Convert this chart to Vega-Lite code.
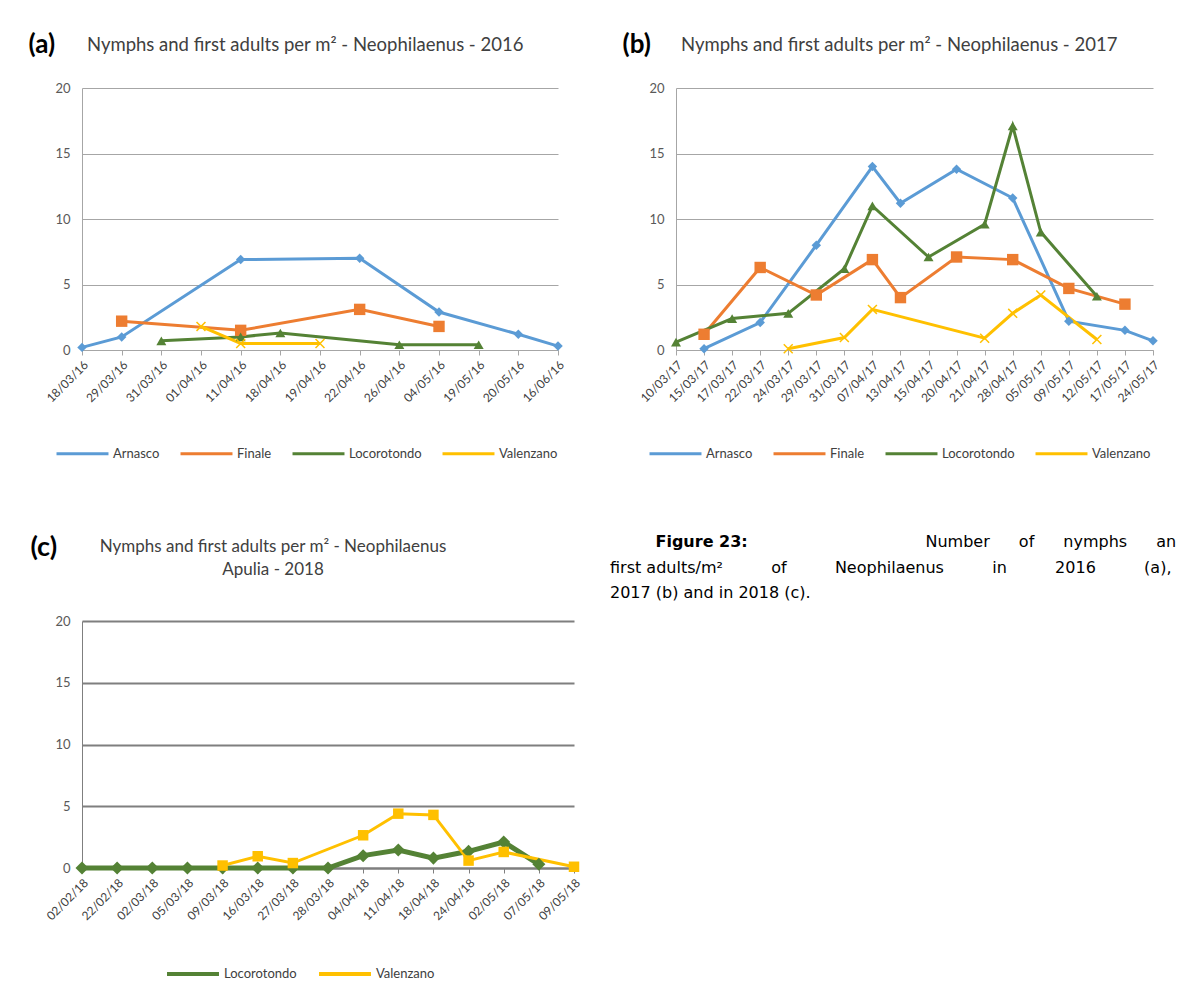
{
  "$schema": "https://vega.github.io/schema/vega-lite/v6.json",
  "background": "white",
  "padding": {"left": 28, "top": 31, "right": 0, "bottom": 0},
  "spacing": 72,
  "resolve": {"scale": {"color": "independent"}, "legend": {"color": "independent"}},
  "datasets": {
    "a": [
      {"date": "18/03/16", "site": "Arnasco", "value": 0.2},
      {"date": "29/03/16", "site": "Arnasco", "value": 1.0},
      {"date": "11/04/16", "site": "Arnasco", "value": 6.9},
      {"date": "22/04/16", "site": "Arnasco", "value": 7.0},
      {"date": "04/05/16", "site": "Arnasco", "value": 2.9},
      {"date": "20/05/16", "site": "Arnasco", "value": 1.2},
      {"date": "16/06/16", "site": "Arnasco", "value": 0.3},
      {"date": "29/03/16", "site": "Finale", "value": 2.2},
      {"date": "11/04/16", "site": "Finale", "value": 1.5},
      {"date": "22/04/16", "site": "Finale", "value": 3.1},
      {"date": "04/05/16", "site": "Finale", "value": 1.8},
      {"date": "31/03/16", "site": "Locorotondo", "value": 0.7},
      {"date": "11/04/16", "site": "Locorotondo", "value": 1.0},
      {"date": "18/04/16", "site": "Locorotondo", "value": 1.3},
      {"date": "26/04/16", "site": "Locorotondo", "value": 0.4},
      {"date": "19/05/16", "site": "Locorotondo", "value": 0.4},
      {"date": "01/04/16", "site": "Valenzano", "value": 1.8},
      {"date": "11/04/16", "site": "Valenzano", "value": 0.5},
      {"date": "19/04/16", "site": "Valenzano", "value": 0.5}
    ],
    "b": [
      {"date": "15/03/17", "site": "Arnasco", "value": 0.1},
      {"date": "22/03/17", "site": "Arnasco", "value": 2.1},
      {"date": "29/03/17", "site": "Arnasco", "value": 8.0},
      {"date": "07/04/17", "site": "Arnasco", "value": 14.0},
      {"date": "13/04/17", "site": "Arnasco", "value": 11.2},
      {"date": "20/04/17", "site": "Arnasco", "value": 13.8},
      {"date": "28/04/17", "site": "Arnasco", "value": 11.6},
      {"date": "09/05/17", "site": "Arnasco", "value": 2.2},
      {"date": "17/05/17", "site": "Arnasco", "value": 1.5},
      {"date": "24/05/17", "site": "Arnasco", "value": 0.7},
      {"date": "15/03/17", "site": "Finale", "value": 1.2},
      {"date": "22/03/17", "site": "Finale", "value": 6.3},
      {"date": "29/03/17", "site": "Finale", "value": 4.2},
      {"date": "07/04/17", "site": "Finale", "value": 6.9},
      {"date": "13/04/17", "site": "Finale", "value": 4.0},
      {"date": "20/04/17", "site": "Finale", "value": 7.1},
      {"date": "28/04/17", "site": "Finale", "value": 6.9},
      {"date": "09/05/17", "site": "Finale", "value": 4.7},
      {"date": "17/05/17", "site": "Finale", "value": 3.5},
      {"date": "10/03/17", "site": "Locorotondo", "value": 0.6},
      {"date": "17/03/17", "site": "Locorotondo", "value": 2.4},
      {"date": "24/03/17", "site": "Locorotondo", "value": 2.8},
      {"date": "31/03/17", "site": "Locorotondo", "value": 6.2},
      {"date": "07/04/17", "site": "Locorotondo", "value": 11.0},
      {"date": "15/04/17", "site": "Locorotondo", "value": 7.1},
      {"date": "21/04/17", "site": "Locorotondo", "value": 9.6},
      {"date": "28/04/17", "site": "Locorotondo", "value": 17.1},
      {"date": "05/05/17", "site": "Locorotondo", "value": 9.0},
      {"date": "12/05/17", "site": "Locorotondo", "value": 4.1},
      {"date": "24/03/17", "site": "Valenzano", "value": 0.1},
      {"date": "31/03/17", "site": "Valenzano", "value": 0.95},
      {"date": "07/04/17", "site": "Valenzano", "value": 3.1},
      {"date": "21/04/17", "site": "Valenzano", "value": 0.9},
      {"date": "28/04/17", "site": "Valenzano", "value": 2.8},
      {"date": "05/05/17", "site": "Valenzano", "value": 4.2},
      {"date": "12/05/17", "site": "Valenzano", "value": 0.8}
    ],
    "c": [
      {"date": "02/02/18", "site": "Locorotondo", "value": 0},
      {"date": "22/02/18", "site": "Locorotondo", "value": 0},
      {"date": "02/03/18", "site": "Locorotondo", "value": 0},
      {"date": "05/03/18", "site": "Locorotondo", "value": 0},
      {"date": "09/03/18", "site": "Locorotondo", "value": 0},
      {"date": "16/03/18", "site": "Locorotondo", "value": 0},
      {"date": "27/03/18", "site": "Locorotondo", "value": 0},
      {"date": "28/03/18", "site": "Locorotondo", "value": 0},
      {"date": "04/04/18", "site": "Locorotondo", "value": 1.0},
      {"date": "11/04/18", "site": "Locorotondo", "value": 1.45},
      {"date": "18/04/18", "site": "Locorotondo", "value": 0.8},
      {"date": "24/04/18", "site": "Locorotondo", "value": 1.35},
      {"date": "02/05/18", "site": "Locorotondo", "value": 2.1},
      {"date": "07/05/18", "site": "Locorotondo", "value": 0.3},
      {"date": "09/03/18", "site": "Valenzano", "value": 0.2},
      {"date": "16/03/18", "site": "Valenzano", "value": 0.95},
      {"date": "27/03/18", "site": "Valenzano", "value": 0.4},
      {"date": "04/04/18", "site": "Valenzano", "value": 2.65},
      {"date": "11/04/18", "site": "Valenzano", "value": 4.4},
      {"date": "18/04/18", "site": "Valenzano", "value": 4.3},
      {"date": "24/04/18", "site": "Valenzano", "value": 0.6},
      {"date": "02/05/18", "site": "Valenzano", "value": 1.3},
      {"date": "09/05/18", "site": "Valenzano", "value": 0.1}
    ],
    "caption": [{"t": ""}]
  },
  "vconcat": [
    {
      "spacing": 56,
      "resolve": {"scale": {"color": "independent"}, "legend": {"color": "independent"}},
      "hconcat": [
        {
          "width": 476, "height": 262,
          "data": {"name": "a"},
          "title": {
            "text": "Nymphs and first adults per m² - Neophilaenus - 2016",
            "anchor": "start", "frame": "group", "dx": 5, "offset": -23,
            "font": "Lato", "fontSize": 18.5, "fontWeight": "normal", "color": "#404040"
          },
          "encoding": {
            "x": {"field": "date", "type": "nominal", "scale": {"type": "point", "padding": 0, "domain": ["18/03/16","29/03/16","31/03/16","01/04/16","11/04/16","18/04/16","19/04/16","22/04/16","26/04/16","04/05/16","19/05/16","20/05/16","16/06/16"]}, "axis": {"title": null, "labelAngle": -45, "labelFontSize": 12, "labelPadding": 4, "tickSize": 5, "grid": false}},
            "y": {"field": "value", "type": "quantitative", "scale": {"domain": [0, 20], "nice": false}, "axis": {"title": "(a)", "titleAngle": 0, "titleAlign": "left", "titleBaseline": "alphabetic", "titleX": -54, "titleY": -36, "titleFont": "Lato", "titleFontSize": 26, "titleFontWeight": "bold", "titleColor": "#000000", "values": [0, 5, 10, 15, 20], "ticks": false, "labelPadding": 12, "labelFontSize": 13, "labelColor": "#595959"}},
            "color": {"field": "site", "type": "nominal", "scale": {"domain": ["Arnasco","Finale","Locorotondo","Valenzano"], "range": ["#5B9BD5","#ED7D31","#548235","#FFC000"]}, "legend": {"orient": "none", "legendX": -27, "legendY": 338, "direction": "horizontal", "title": null, "symbolType": "stroke"}},
            "order": {"value": null}
          },
          "layer": [
            {"mark": {"type": "line", "strokeWidth": 3}},
            {"transform": [{"filter": "datum.site != 'Valenzano'"}],
             "mark": {"type": "point", "filled": true, "opacity": 1},
             "encoding": {
               "shape": {"condition": [{"test": "datum.site == 'Arnasco'", "value": "diamond"}, {"test": "datum.site == 'Finale'", "value": "square"}], "value": "triangle-up"},
               "size": {"condition": [{"test": "datum.site == 'Arnasco'", "value": 90}, {"test": "datum.site == 'Finale'", "value": 130}], "value": 100}
             }},
            {"transform": [{"filter": "datum.site == 'Valenzano'"}],
             "mark": {"type": "point", "filled": false, "opacity": 1, "strokeWidth": 1.5, "shape": "M-1,-1L1,1M1,-1L-1,1", "size": 80}}
          ]
        },
        {
          "width": 477, "height": 262,
          "data": {"name": "b"},
          "title": {
            "text": "Nymphs and first adults per m² - Neophilaenus - 2017",
            "anchor": "start", "frame": "group", "dx": 5, "offset": -23,
            "font": "Lato", "fontSize": 18.5, "fontWeight": "normal", "color": "#404040"
          },
          "encoding": {
            "x": {"field": "date", "type": "nominal", "scale": {"type": "point", "padding": 0, "domain": ["10/03/17","15/03/17","17/03/17","22/03/17","24/03/17","29/03/17","31/03/17","07/04/17","13/04/17","15/04/17","20/04/17","21/04/17","28/04/17","05/05/17","09/05/17","12/05/17","17/05/17","24/05/17"]}, "axis": {"title": null, "labelAngle": -45, "labelFontSize": 12, "labelPadding": 4, "tickSize": 5, "grid": false}},
            "y": {"field": "value", "type": "quantitative", "scale": {"domain": [0, 20], "nice": false}, "axis": {"title": "(b)", "titleAngle": 0, "titleAlign": "left", "titleBaseline": "alphabetic", "titleX": -54, "titleY": -36, "titleFont": "Lato", "titleFontSize": 26, "titleFontWeight": "bold", "titleColor": "#000000", "values": [0, 5, 10, 15, 20], "ticks": false, "labelPadding": 12, "labelFontSize": 13, "labelColor": "#595959"}},
            "color": {"field": "site", "type": "nominal", "scale": {"domain": ["Arnasco","Finale","Locorotondo","Valenzano"], "range": ["#5B9BD5","#ED7D31","#548235","#FFC000"]}, "legend": {"orient": "none", "legendX": -28, "legendY": 338, "direction": "horizontal", "title": null, "symbolType": "stroke"}},
            "order": {"value": null}
          },
          "layer": [
            {"mark": {"type": "line", "strokeWidth": 3}},
            {"transform": [{"filter": "datum.site != 'Valenzano'"}],
             "mark": {"type": "point", "filled": true, "opacity": 1},
             "encoding": {
               "shape": {"condition": [{"test": "datum.site == 'Arnasco'", "value": "diamond"}, {"test": "datum.site == 'Finale'", "value": "square"}], "value": "triangle-up"},
               "size": {"condition": [{"test": "datum.site == 'Arnasco'", "value": 90}, {"test": "datum.site == 'Finale'", "value": 130}], "value": 100}
             }},
            {"transform": [{"filter": "datum.site == 'Valenzano'"}],
             "mark": {"type": "point", "filled": false, "opacity": 1, "strokeWidth": 1.5, "shape": "M-1,-1L1,1M1,-1L-1,1", "size": 80}}
          ]
        }
      ]
    },
    {
      "spacing": 28,
      "resolve": {"scale": {"color": "independent"}, "legend": {"color": "independent"}},
      "hconcat": [
        {
          "width": 492, "height": 247,
          "data": {"name": "c"},
          "title": {
            "text": ["Nymphs and first adults per m² - Neophilaenus", "Apulia - 2018"],
            "anchor": "middle", "frame": "group", "dx": -55, "offset": -46,
            "font": "Lato", "fontSize": 17, "fontWeight": "normal", "color": "#404040", "lineHeight": 23
          },
          "encoding": {
            "x": {"field": "date", "type": "nominal", "scale": {"type": "point", "padding": 0, "domain": ["02/02/18","22/02/18","02/03/18","05/03/18","09/03/18","16/03/18","27/03/18","28/03/18","04/04/18","11/04/18","18/04/18","24/04/18","02/05/18","07/05/18","09/05/18"]}, "axis": {"title": null, "labelAngle": -45, "labelFontSize": 12, "labelPadding": 4, "tickSize": 5, "grid": false, "domainColor": "#7F7F7F", "tickColor": "#7F7F7F", "domainWidth": 2}},
            "y": {"field": "value", "type": "quantitative", "scale": {"domain": [0, 20], "nice": false}, "axis": {"title": "(c)", "titleAngle": 0, "titleAlign": "left", "titleBaseline": "alphabetic", "titleX": -52, "titleY": -66, "titleFont": "Lato", "titleFontSize": 27, "titleFontWeight": "bold", "titleColor": "#000000", "values": [0, 5, 10, 15, 20], "ticks": false, "labelPadding": 12, "labelFontSize": 13, "labelColor": "#595959", "gridColor": "#7F7F7F", "gridWidth": 2, "domainColor": "#7F7F7F"}},
            "color": {"field": "site", "type": "nominal", "scale": {"domain": ["Locorotondo","Valenzano"], "range": ["#548235","#FFC000"]}, "legend": {"orient": "none", "legendX": 83, "legendY": 325, "direction": "horizontal", "title": null, "symbolType": "stroke", "symbolStrokeWidth": 4}},
            "order": {"value": null}
          },
          "layer": [
            {"transform": [{"filter": "datum.site == 'Locorotondo'"}], "mark": {"type": "line", "strokeWidth": 5}},
            {"transform": [{"filter": "datum.site == 'Valenzano'"}], "mark": {"type": "line", "strokeWidth": 3}},
            {"mark": {"type": "point", "filled": true, "opacity": 1},
             "encoding": {
               "shape": {"condition": {"test": "datum.site == 'Locorotondo'", "value": "diamond"}, "value": "square"},
               "size": {"condition": {"test": "datum.site == 'Locorotondo'", "value": 170}, "value": 110}
             }}
          ]
        },
        {
          "width": 560, "height": 1,
          "data": {"name": "caption"},
          "mark": {"type": "text"},
          "encoding": {
            "text": {"field": "t"},
            "x": {"field": "t", "type": "nominal", "axis": {"orient": "top", "labels": false, "ticks": false, "domain": false, "title": "Number\u2003\u2002 of\u2003\u2002 nymphs\u2003\u2002 an", "titleAngle": 0, "titleAlign": "left", "titleBaseline": "alphabetic", "titleX": 315, "titleY": -75, "titleFont": "DejaVu Sans", "titleFontSize": 16, "titleFontWeight": "normal", "titleColor": "#000000"}},
            "y": {"field": "t", "type": "nominal", "axis": {"labels": false, "ticks": false, "domain": false, "title": "Figure 23:", "titleAngle": 0, "titleAlign": "left", "titleBaseline": "alphabetic", "titleX": 45, "titleY": -75, "titleFont": "DejaVu Sans", "titleFontSize": 16, "titleFontWeight": "bold", "titleColor": "#000000"}}
          },
          "title": {
            "text": [
              "first adults/m²\u2003\u2003\u2002\u2009 of\u2003\u2003\u2002\u2009 Neophilaenus\u2003\u2003\u2002\u2009 in\u2003\u2003\u2002\u2009 2016\u2003\u2003\u2002\u2009 (a),",
              "2017 (b) and in 2018 (c)."
            ],
            "orient": "top", "anchor": "start", "frame": "group", "offset": -68,
            "font": "DejaVu Sans", "fontSize": 16, "fontWeight": "normal", "color": "#000000", "lineHeight": 25
          }
        }
      ]
    }
  ],
  "config": {
    "view": {"stroke": null},
    "font": "Lato",
    "axis": {"labelFont": "Lato", "labelColor": "#404040", "domainColor": "#A6A6A6", "gridColor": "#A6A6A6", "tickColor": "#A6A6A6"},
    "legend": {"symbolType": "stroke", "symbolSize": 2700, "symbolStrokeWidth": 3, "labelFont": "Lato", "labelFontSize": 13, "labelColor": "#404040", "labelOffset": 3, "columnPadding": 14}
  }
}
